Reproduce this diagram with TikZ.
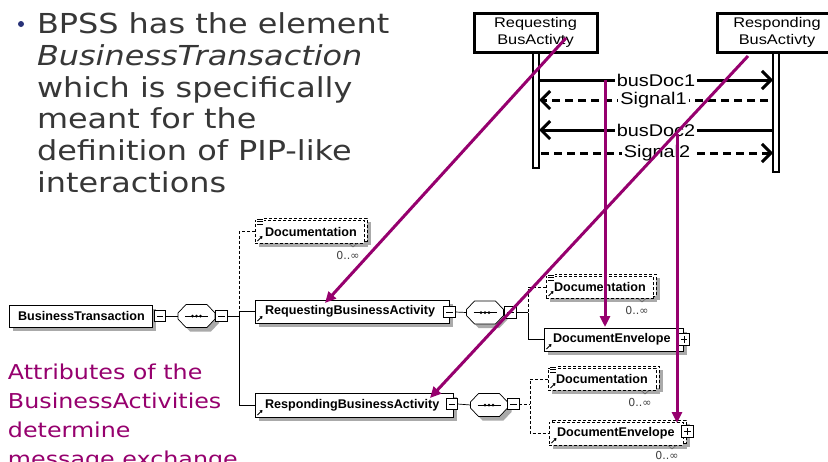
\documentclass[tikz,border=0pt]{standalone}
\usepackage{fontspec}
\usetikzlibrary{arrows.meta,calc}
\newfontfamily\slidefont[FakeStretch=1.16]{DejaVu Sans}
\newfontfamily\seqfont[FakeStretch=1.17]{Liberation Sans}
\newfontfamily\xsdfont{Liberation Sans}
\newfontfamily\occfont{DejaVu Sans}
\definecolor{accent}{RGB}{150,0,110}
\definecolor{slidegray}{RGB}{55,55,55}
\definecolor{bulletblue}{RGB}{40,50,120}
\definecolor{shadowgray}{RGB}{170,170,170}
\pgfdeclarelayer{canvas}
\pgfdeclarelayer{shadows}
\pgfdeclarelayer{stack}
\pgfsetlayers{canvas,shadows,stack,main}

% drop shadow of a rectangular schema box, offset #2
\newcommand\boxshadow[2]{\begin{pgfonlayer}{shadows}\fill[shadowgray] ($(#1.north west)+#2$) rectangle ($(#1.south east)+#2$);\end{pgfonlayer}}
% octagon outline of a sequence compositor node, offset #2
\newcommand\octpath[2]{($(#1.west)+(0,-3)+#2$) -- ($(#1.north west)+(8,0)+#2$) -- ($(#1.north east)+(-8,0)+#2$) -- ($(#1.east)+(0,-3)+#2$) -- ($(#1.east)+(0,3)+#2$) -- ($(#1.south east)+(-8,0)+#2$) -- ($(#1.south west)+(8,0)+#2$) -- ($(#1.west)+(0,3)+#2$) -- cycle}
\newcommand\compositor[1]{%
  \begin{pgfonlayer}{shadows}\fill[shadowgray] \octpath{#1}{(4,4)};\end{pgfonlayer}
  \draw[wire, fill=white] \octpath{#1}{(0,0)};
  \draw[line width=1pt] ($(#1.west)+(7,0)$) -- ($(#1.east)+(-7,0)$);
  \foreach \k in {-4,0,4} \fill ($(#1.center)+(\k,0)$) circle (1.5);}
% reference arrow in the lower left corner of an element box
\newcommand\refmark[1]{\draw[line width=0.8pt, -{Triangle[length=2.5pt,width=3.2pt]}] ($(#1.south west)+(2.5,-2)$) -- ($(#1.south west)+(7.5,-7)$);}
% annotation icon at the upper left corner
\newcommand\docmark[1]{\fill[white] ($(#1.north west)+(1.5,-2)$) rectangle ($(#1.north west)+(8.5,5)$);
  \foreach \d in {-1,1.5,4} \draw[line width=0.6pt] ($(#1.north west)+(2,\d)$) -- ($(#1.north west)+(8,\d)$);}
% second box behind an element that may repeat
\newcommand\stackbox[1]{\begin{pgfonlayer}{stack}\draw[optline, fill=white] ($(#1.north west)+(3,-2)$) rectangle ($(#1.south east)+(3,-2)$);\end{pgfonlayer}
  \boxshadow{#1}{(7,2)}}
% occurrence notch and range
\newcommand\occurs[3]{\draw[black!60, line width=0.6pt] ($(#1.south east)+(-15,0.5)$) -- ($(#1.south east)+(-11,4)$) -- ($(#1.south east)+(-7,0.5)$);
  \node[occ] (#2) at ($(#1.south east)+(-16,#3)$) {0..∞};}

\begin{document}
\begin{tikzpicture}[x=1pt, y=-1pt,
  every node/.style={inner sep=0pt, outer sep=0pt},
  slide/.style={anchor=base west, text=slidegray, font=\slidefont\fontsize{27.5}{32}\selectfont},
  note/.style={anchor=base west, text=accent, font=\slidefont\fontsize{20.5}{29}\selectfont},
  actor/.style={draw, line width=3pt, fill=white, align=center, font=\seqfont\fontsize{14}{16.5}\selectfont},
  lifeline/.style={draw, line width=1.4pt, fill=white, minimum width=6pt},
  msg/.style={line width=3pt, -{Straight Barb[length=9pt,width=18pt]}},
  dmsg/.style={msg, dash pattern=on 8pt off 5pt},
  msglabel/.style={fill=white, inner xsep=2pt, inner ysep=0.5pt, font=\seqfont\fontsize{17}{19}\selectfont},
  link/.style={draw=accent, line width=3pt, -{Triangle[length=11pt,width=10pt]}},
  wire/.style={line width=0.7pt},
  optline/.style={line width=0.7pt, dash pattern=on 3pt off 2pt},
  xsd/.style={draw, wire, fill=white},
  optional/.style={draw, optline, fill=white},
  elabel/.style={anchor=west, font=\xsdfont\bfseries\fontsize{12.6}{14}\selectfont},
  octbox/.style={minimum width=37pt, minimum height=23pt},
  minusbox/.style={draw, line width=0.6pt, fill=white, minimum size=11.5pt,
    path picture={\draw[line width=0.6pt] ($(path picture bounding box.west)+(2.5,0)$) -- ($(path picture bounding box.east)+(-2.5,0)$);}},
  plusbox/.style={draw, line width=0.6pt, fill=white, minimum size=11.5pt,
    path picture={\draw[line width=0.6pt] ($(path picture bounding box.west)+(2.5,0)$) -- ($(path picture bounding box.east)+(-2.5,0)$);
                  \draw[line width=0.6pt] ($(path picture bounding box.north)+(0,2.5)$) -- ($(path picture bounding box.south)+(0,-2.5)$);}},
  occ/.style={font=\occfont\fontsize{11}{12}\selectfont, text=black!75}]

\begin{pgfonlayer}{canvas}
  \fill[white] (0,0) rectangle (828,461);
\end{pgfonlayer}
\useasboundingbox (0,0) rectangle (828,461);

% ---- bullet text ----
\fill[bulletblue] (21,24) circle (3);
\node[slide] (t1) at (37,33) {BPSS has the element};
\node[slide] (t2) at (37,65) {\itshape BusinessTransaction};
\node[slide] (t3) at (37,97) {which is specifically};
\node[slide] (t4) at (37,128.5) {meant for the};
\node[slide] (t5) at (37,160.5) {definition of PIP-like};
\node[slide] (t6) at (37,192.5) {interactions};

\node[note] (n1) at (8,379) {Attributes of the};
\node[note] (n2) at (8,408) {BusinessActivities};
\node[note] (n3) at (8,437) {determine};
\node[note] (n4) at (8,466) {message exchange};

% ---- sequence diagram ----
\node[lifeline, minimum height=116] (reql) at (536,110) {};
\node[lifeline, minimum height=120] (respl) at (776,112) {};
\node[actor, minimum width=123, minimum height=39] (req) at (535.5,32.5) {Requesting\\BusActivty};
\node[actor, minimum width=120, minimum height=39] (resp) at (777,32.5) {Responding\\BusActivty};

\draw[msg] (reql.east |- 0,80) -- node[msglabel] (lb1) {busDoc1} (respl.west |- 0,80);
\draw[dmsg] ($(respl.west |- 0,100)+(-5,0)$) -- node[msglabel] (lb2) {Signal1} (reql.east |- 0,100);
\draw[msg] (respl.west |- 0,130) -- node[msglabel] (lb3) {busDoc2} (reql.east |- 0,130);
\draw[dmsg] ($(reql.east |- 0,153)+(2,0)$) -- node[msglabel] (lb4) {Signal2} (respl.west |- 0,153);

% ---- schema: BusinessTransaction ----
\node[xsd, minimum width=143, minimum height=22] (bt) at (80.5,316) {};
\boxshadow{bt}{(4,4)}
\node[elabel] (btl) at ($(bt.west)+(9,0)$) {BusinessTransaction};
\node[minusbox] (m1) at (160,316) {};
\node[octbox] (o1) at (196.5,316) {};
\compositor{o1}
\node[minusbox] (m2) at (221.5,316) {};
\coordinate (bus1) at (239,316);
\draw[wire] (m1.east) -- (o1.west);
\draw[wire] (m2.east) -- (bus1);

\node[optional, minimum width=109, minimum height=23] (doc1) at (309.5,231.5) {};
\boxshadow{doc1}{(4,4)}
\stackbox{doc1}
\node[elabel] (doc1l) at ($(doc1.west)+(10,0)$) {Documentation};
\refmark{doc1}
\docmark{doc1}
\occurs{doc1}{oc1}{12}
\draw[optline] (doc1.west) -| (bus1);

% ---- RequestingBusinessActivity ----
\node[xsd, minimum width=194, minimum height=23] (rba) at (352,311.5) {};
\boxshadow{rba}{(4,4)}
\node[elabel] (rbal) at ($(rba.west)+(10,0)$) {RequestingBusinessActivity};
\refmark{rba}
\node[minusbox] (m3) at (449.5,312) {};
\node[octbox] (o2) at (485,312.5) {};
\compositor{o2}
\node[minusbox] (m4) at (510.5,312.5) {};
\coordinate (bus2) at (528,312.5);
\draw[wire] (m3.east) -- (o2.west);
\draw[wire] (m4.east) -- (bus2);
\draw[wire] (bus1) |- (rba.west);

\node[optional, minimum width=107, minimum height=22] (doc2) at (599.5,287) {};
\boxshadow{doc2}{(4,4)}
\stackbox{doc2}
\node[elabel] (doc2l) at ($(doc2.west)+(8,0)$) {Documentation};
\refmark{doc2}
\docmark{doc2}
\occurs{doc2}{oc2}{12}
\draw[optline] (doc2.west) -| (bus2);

\node[xsd, minimum width=139, minimum height=23] (env1) at (613.5,339.5) {};
\boxshadow{env1}{(4,4)}
\node[elabel] (env1l) at ($(env1.west)+(9,0)$) {DocumentEnvelope};
\refmark{env1}
\node[plusbox] (p1) at (684,339.5) {};
\draw[wire] (bus2) |- (env1.west);

% ---- RespondingBusinessActivity ----
\node[xsd, minimum width=198, minimum height=24] (rspba) at (354,405) {};
\boxshadow{rspba}{(4,4)}
\node[elabel] (rspbal) at ($(rspba.west)+(10,0)$) {RespondingBusinessActivity};
\refmark{rspba}
\node[minusbox] (m5) at (452,404) {};
\node[octbox] (o3) at (489,405) {};
\compositor{o3}
\node[minusbox] (m6) at (513.5,404) {};
\coordinate (bus3) at (530,404);
\draw[wire] (m5.east) -- (o3.west);
\draw[optline] (m6.east) -- (bus3);
\draw[wire] (bus1) |- (rspba.west);

\node[optional, minimum width=108, minimum height=22] (doc3) at (602,379) {};
\boxshadow{doc3}{(4,4)}
\stackbox{doc3}
\node[elabel] (doc3l) at ($(doc3.west)+(8,0)$) {Documentation};
\refmark{doc3}
\docmark{doc3}
\occurs{doc3}{oc3}{12}

\node[optional, minimum width=134, minimum height=23] (env2) at (616,433.5) {};
\boxshadow{env2}{(4,4)}
\stackbox{env2}
\node[elabel] (env2l) at ($(env2.west)+(8,0)$) {DocumentEnvelope};
\refmark{env2}
\node[plusbox] (p2) at (687.5,431.5) {};
\occurs{env2}{oc4}{10.5}
\draw[optline] (doc3.west) -| (bus3) |- (env2.west);

% ---- links from the sequence diagram to the schema ----
\coordinate (s1) at (566,38);   \coordinate (e1) at (325,303);
\coordinate (s2) at (748,56);   \coordinate (e2) at (430,398);
\coordinate (s3) at (605,80);   \coordinate (e3) at (605,327);
\coordinate (s4) at (677,134);  \coordinate (e4) at (677,423);
\draw[link] (s1) -- (e1);
\draw[link] (s2) -- (e2);
\draw[link] (s3) -- (e3);
\draw[link] (s4) -- (e4);
\end{tikzpicture}
\end{document}
